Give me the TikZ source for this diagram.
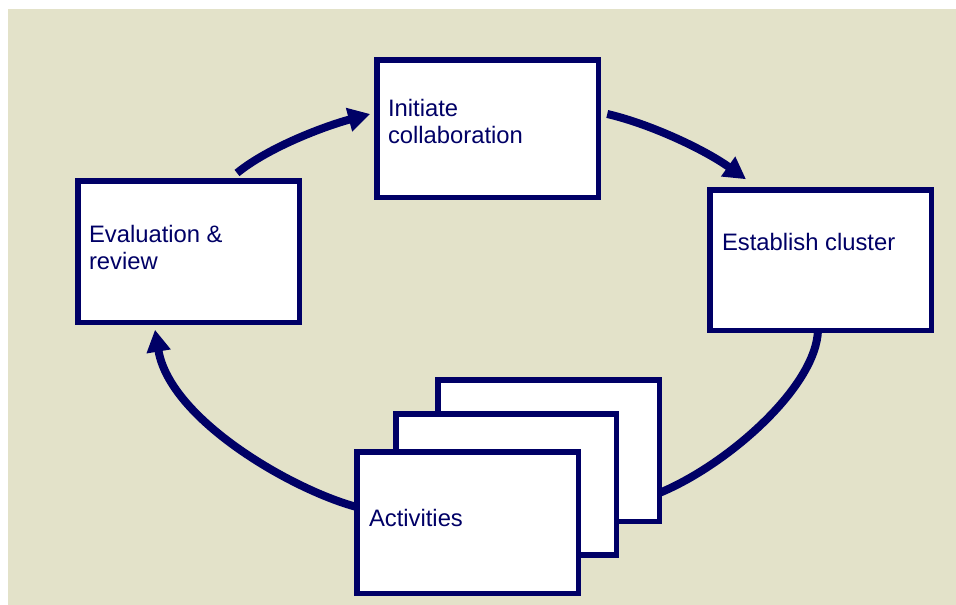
\documentclass[tikz,border=0pt]{standalone}
\usepackage{fontspec}
\setmainfont{Liberation Sans}
\usetikzlibrary{arrows.meta,calc}
\definecolor{bgbeige}{RGB}{227,226,201}
\definecolor{navy}{RGB}{0,0,102}
\pgfdeclarelayer{bglayer}
\pgfdeclarelayer{arrowlayer}
\pgfsetlayers{bglayer,arrowlayer,main}
\tikzset{
  card/.style={draw=navy, line width=5.5pt, fill=white, rectangle, inner sep=0pt, outer sep=0pt, anchor=north west},
  lbl/.style={text=navy, font=\fontsize{23.8}{26.5}\selectfont, inner sep=0pt, outer sep=0pt, anchor=base west, align=left},
  flow/.style={draw=navy, line width=8pt},
  flowarrow/.style={flow, -{Triangle[length=22pt,width=23pt]}}
}
\begin{document}
\begin{tikzpicture}[x=1pt,y=-1pt]
\useasboundingbox (0,0) rectangle (956,605);
\begin{pgfonlayer}{bglayer}
\fill[bgbeige] (8,9) rectangle (956,605);
\end{pgfonlayer}

% boxes
\node[card, minimum width=221.5pt, minimum height=137.5pt] (init) at (376.75,59.75) {};
\node[card, minimum width=221.5pt, minimum height=140.5pt] (est) at (709.75,189.75) {};
\node[card, minimum width=221.5pt, minimum height=141.5pt] (eval) at (77.75,180.75) {};
\node[card, minimum width=221.5pt, minimum height=141.5pt] (back) at (437.75,380) {};
\node[card, minimum width=220.5pt, minimum height=141pt] (mid) at (395.75,413.75) {};
\node[card, minimum width=221.5pt, minimum height=141.5pt] (front) at (356.75,451.75) {};

% connector end points
\coordinate (a1s) at ($(eval.north)+(48.5,-7.75)$);
\coordinate (a1e) at ($(init.west)+(-6.5,-14.5)$);
\coordinate (a2s) at ($(init.east)+(9,-14.5)$);
\coordinate (a2e) at ($(est.north)+(-74.5,-10.5)$);
\coordinate (a3s) at ($(est.south)+(-2.5,0)$);
\coordinate (a3e) at ($(back.south east)+(0,-28.5)$);
\coordinate (a4s) at ($(front.west)+(0,-15.5)$);
\coordinate (a4e) at ($(eval.south)+(-33.5,7.5)$);

\begin{pgfonlayer}{arrowlayer}
\draw[flowarrow] (a1s) .. controls ($(a1s)+(32,-26)$) and ($(a1e)+(-45,12)$) .. (a1e);
\draw[flowarrow] (a2s) .. controls ($(a2s)+(43,10)$) and ($(a2e)+(-42,-30)$) .. (a2e);
\draw[flow] (a3s) .. controls ($(a3s)+(-2,57)$) and ($(a3e)+(68,-28)$) .. (a3e);
\draw[flowarrow] (a4s) .. controls ($(a4s)+(-64,-17)$) and ($(a4e)+(15,90)$) .. (a4e);
\end{pgfonlayer}

% labels
\node[lbl] (tinit) at (388,143) {Initiate\\collaboration};
\node[lbl] (test) at (722,250) {Establish cluster};
\node[lbl] (teval) at (89,269) {Evaluation \&\\review};
\node[lbl] (tact) at (369,526) {Activities};
\end{tikzpicture}
\end{document}
